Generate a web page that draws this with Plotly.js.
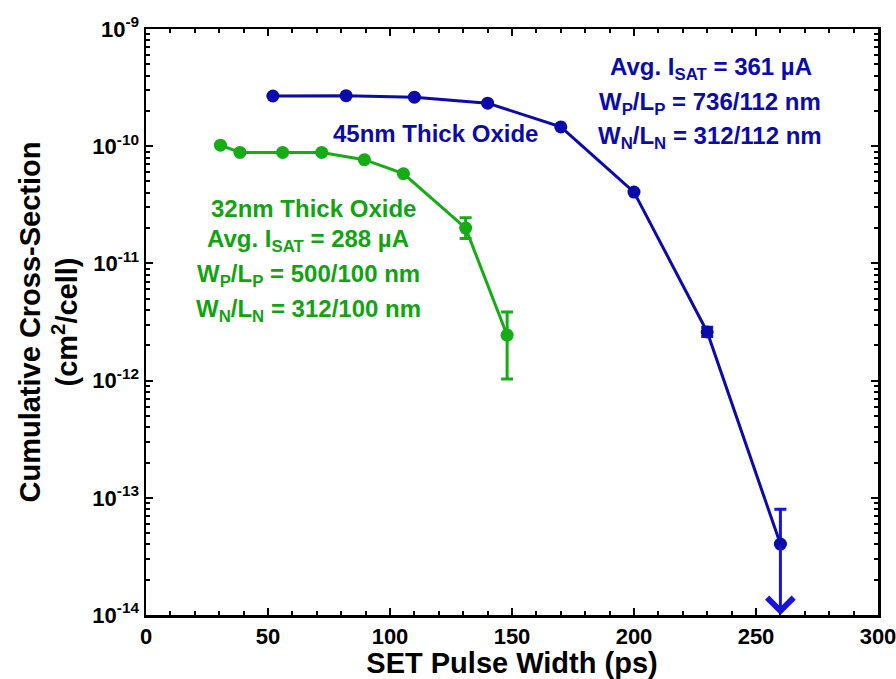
<!DOCTYPE html>
<html>
<head>
<meta charset="utf-8">
<script src="https://cdn.plot.ly/plotly-3.0.1.min.js"></script>
<style>html,body{margin:0;padding:0;background:#fff;}#chart{width:896px;height:679px;}</style>
</head>
<body>
<div id="chart"></div>
<script>
// 45nm thick oxide (blue)
var x45 = [52, 82, 110, 140, 170, 200, 230, 260];
var y45 = [2.68e-10, 2.70e-10, 2.62e-10, 2.33e-10, 1.46e-10, 4.06e-11, 2.60e-12, 4.03e-14];
var up45 = [null, null, null, null, null, null, 2.85e-12, 8.0e-14];
var lo45 = [null, null, null, null, null, null, 2.38e-12, 4.03e-14];

// 32nm thick oxide (green)
var x32 = [30.5, 38.5, 56, 72, 89.5, 105.5, 131, 148];
var y32 = [1.02e-10, 8.85e-11, 8.85e-11, 8.85e-11, 7.67e-11, 5.83e-11, 2.0e-11, 2.44e-12];
var up32 = [null, null, null, null, null, null, 2.45e-11, 3.85e-12];
var lo32 = [null, null, null, null, null, null, 1.63e-11, 1.03e-12];

var xTickVals = [0, 50, 100, 150, 200, 250, 300];
var xTickText = ['0', '50', '100', '150', '200', '250', '300'];
var yTickVals = [1e-14, 1e-13, 1e-12, 1e-11, 1e-10, 1e-9];
var yTickText = ['10<sup>-14</sup>', '10<sup>-13</sup>', '10<sup>-12</sup>', '10<sup>-11</sup>', '10<sup>-10</sup>', '10<sup>-9</sup>'];

var blue = '#0b0bab', blueErr = '#1414dc', green = '#16ac16', greenText = '#12a312';

function errPlus(y, up) { return y.map(function (v, i) { return up[i] == null ? 0 : up[i] - v; }); }
function errMinus(y, lo) { return y.map(function (v, i) { return lo[i] == null ? 0 : v - lo[i]; }); }
function bold(a) { return a.map(function (s) { return '<b>' + s + '</b>'; }); }

var yMinor = [];
for (var e = -14; e < -9; e++) for (var d = 2; d <= 9; d++) yMinor.push(d * Math.pow(10, e));
var xMinor = [];
for (var t = 10; t < 300; t += 10) if (t % 50 !== 0) xMinor.push(t);

var data = [
  {
    x: x45, y: y45, type: 'scatter', mode: 'lines+markers',
    line: {color: blue, width: 3},
    marker: {color: blue, size: 13},
    error_y: {type: 'data', symmetric: false, array: errPlus(y45, up45), arrayminus: errMinus(y45, lo45),
      color: blueErr, thickness: 3, width: 6},
    showlegend: false, cliponaxis: false
  },
  {
    x: x32, y: y32, type: 'scatter', mode: 'lines+markers',
    line: {color: green, width: 3},
    marker: {color: green, size: 13},
    error_y: {type: 'data', symmetric: false, array: errPlus(y32, up32), arrayminus: errMinus(y32, lo32),
      color: green, thickness: 3, width: 6},
    showlegend: false, cliponaxis: false
  }
];

var annFont = function (c) { return {family: 'Liberation Sans, Arial, sans-serif', size: 24, color: c}; };
function pa(px, py, txt, c) {
  return {xref: 'paper', yref: 'paper', x: (px - 146) / 732, y: (615 - py) / 586, xanchor: 'center', yanchor: 'middle',
    text: '<b>' + txt + '</b>', showarrow: false, font: annFont(c)};
}

var annotations = [
  pa(435, 133, '45nm Thick Oxide', blue),
  pa(711, 68, 'Avg. I<sub>SAT</sub> = 361 µA', blue),
  pa(710, 103, 'W<sub>P</sub>/L<sub>P</sub> = 736/112 nm', blue),
  pa(710, 137, 'W<sub>N</sub>/L<sub>N</sub> = 312/112 nm', blue),
  pa(313, 208, '32nm Thick Oxide', greenText),
  pa(308, 240, 'Avg. I<sub>SAT</sub> = 288 µA', greenText),
  pa(308, 275, 'W<sub>P</sub>/L<sub>P</sub> = 500/100 nm', greenText),
  pa(308, 310, 'W<sub>N</sub>/L<sub>N</sub> = 312/100 nm', greenText),
  {
    xref: 'x', yref: 'y', axref: 'x', ayref: 'y',
    x: x45[7], y: Math.log10(1e-14), ax: x45[7], ay: Math.log10(y45[7]),
    text: '', showarrow: true, arrowhead: 4, arrowsize: 1.7, arrowwidth: 3, arrowcolor: blueErr,
    standoff: 0, startstandoff: 0
  }
];

var tickFont = {family: 'Liberation Sans, Arial, sans-serif', size: 22, color: '#000'};

var layout = {
  width: 896, height: 679,
  margin: {l: 146, r: 18, t: 29, b: 64},
  paper_bgcolor: '#fff', plot_bgcolor: '#fff',
  font: {family: 'Liberation Sans, Arial, sans-serif', color: '#000'},
  xaxis: {
    range: [0, 300], tickmode: 'array', tickvals: xTickVals, ticktext: bold(xTickText),
    ticks: 'inside', ticklen: 7, tickwidth: 2, tickcolor: '#000', ticklabeloverflow: 'allow',
    minor: {tickmode: 'array', tickvals: xMinor, ticks: 'inside', ticklen: 4, tickwidth: 2, tickcolor: '#000'},
    showline: true, linewidth: 2.5, linecolor: '#000', mirror: 'ticks',
    showgrid: false, zeroline: false,
    tickfont: tickFont,
    title: {text: '<b>SET Pulse Width (ps)</b>', font: {family: 'Liberation Sans, Arial, sans-serif', size: 29, color: '#000'}, standoff: 7}
  },
  yaxis: {
    type: 'log', range: [-14, -9], tickmode: 'array', tickvals: yTickVals, ticktext: bold(yTickText),
    ticks: 'inside', ticklen: 7, tickwidth: 2, tickcolor: '#000', ticklabeloverflow: 'allow',
    minor: {tickmode: 'array', tickvals: yMinor, ticks: 'inside', ticklen: 4, tickwidth: 2, tickcolor: '#000'},
    showline: true, linewidth: 2.5, linecolor: '#000', mirror: 'ticks',
    showgrid: false, zeroline: false,
    tickfont: tickFont,
    title: {text: '<b>Cumulative Cross-Section<br>(cm<sup>2</sup>/cell)</b>', font: {family: 'Liberation Sans, Arial, sans-serif', size: 29, color: '#000'}, standoff: 6}
  },
  annotations: annotations
};

Plotly.newPlot('chart', data, layout, {displayModeBar: false, staticPlot: true});
</script>
</body>
</html>
